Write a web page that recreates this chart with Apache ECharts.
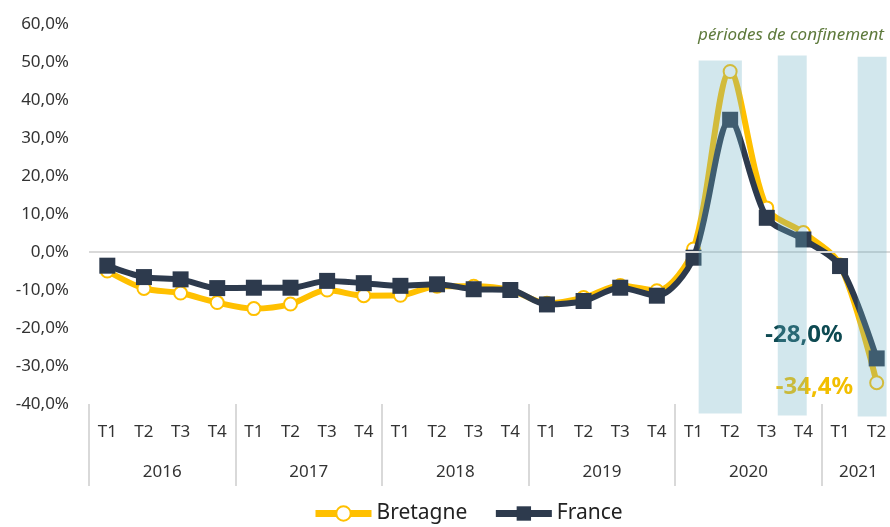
<!DOCTYPE html>
<html>
<head>
<meta charset="utf-8">
<script src="https://cdn.jsdelivr.net/npm/echarts@6/dist/echarts.min.js"></script>
<style>
  html, body { margin: 0; padding: 0; background: #fff; }
  #chart { width: 890px; height: 527px; }
</style>
</head>
<body>
<div id="chart"></div>
<script>
// trimestres et années
const quarters = ['T1', 'T2', 'T3', 'T4', 'T1', 'T2', 'T3', 'T4', 'T1', 'T2', 'T3', 'T4',
  'T1', 'T2', 'T3', 'T4', 'T1', 'T2', 'T3', 'T4', 'T1', 'T2'];
const years = ['2016', '2017', '2018', '2019', '2020', '2021'];
const quartersPerYear = [4, 4, 4, 4, 4, 2];

// évolution en %
const bretagne = [-5.0, -9.6, -10.8, -13.3, -14.9, -13.7, -10.0, -11.5, -11.4, -9.0, -9.0, -10.0,
  -13.5, -12.0, -8.8, -10.2, 0.8, 47.5, 11.6, 5.1, -3.4, -34.4];
const france = [-3.6, -6.6, -7.2, -9.5, -9.4, -9.4, -7.6, -8.2, -8.9, -8.5, -9.8, -10.0,
  -13.8, -12.9, -9.4, -11.5, -1.5, 34.8, 9.0, 3.3, -3.7, -28.0];

// périodes de confinement : [début, fin] en trimestres, [haut, bas] en %
const confinement = [
  [16.64, 17.82, 50.4, -42.5],
  [18.80, 19.59, 51.7, -43.0],
  [20.98, 21.77, 51.4, -43.3]
];

const yTicks = { min: -40, max: 60, step: 10 };

// axe des années (positions aux frontières des trimestres)
const yearSlots = new Array(quarters.length + 1).fill('');
const yearStarts = [];
let pos = 0;
years.forEach((y, i) => {
  yearStarts.push(pos);
  yearSlots[pos + quartersPerYear[i] / 2] = y;
  pos += quartersPerYear[i];
});

const fmt = v => v.toFixed(1).replace('.', ',') + '%';
const font = 'Noto Sans';
const yellow = '#FFC000';
const navy = '#2D3A4D';

const myChart = echarts.init(document.getElementById('chart'));

const lastB = bretagne.length - 1;
const lastF = france.length - 1;

var option = {
  animation: false,
  textStyle: { fontFamily: font },
  title: {
    text: 'périodes de confinement',
    right: 1,
    top: 22,
    textStyle: { fontFamily: font, fontStyle: 'italic', fontWeight: 'normal', fontSize: 17, color: '#5E7A3C' }
  },
  grid: { left: 89, top: 24, width: 806, bottom: 123, outerBoundsMode: 'none' },
  legend: {
    data: ['Bretagne', 'France'],
    left: 307,
    bottom: -2,
    itemWidth: 56,
    itemHeight: 18,
    itemGap: 25,
    lineStyle: { width: 7 },
    textStyle: { fontFamily: font, fontSize: 21, color: '#222' }
  },
  xAxis: [
    {
      type: 'category',
      data: quarters,
      position: 'bottom',
      axisLine: { show: false, onZero: false },
      axisTick: {
        show: true,
        inside: false,
        length: 82,
        interval: (index) => yearStarts.includes(index),
        lineStyle: { color: '#d9d9d9', width: 2 }
      },
      axisLabel: { interval: 0, margin: 20, fontSize: 17, color: '#333', fontFamily: font }
    },
    {
      type: 'category',
      data: yearSlots,
      boundaryGap: false,
      position: 'bottom',
      offset: 40,
      axisLine: { show: false, onZero: false },
      axisTick: { show: false },
      axisLabel: { interval: 0, margin: 20, fontSize: 17, color: '#333', fontFamily: font }
    },
    {
      type: 'value',
      min: 0,
      max: quarters.length,
      show: false
    }
  ],
  yAxis: {
    type: 'value',
    min: yTicks.min,
    max: yTicks.max,
    interval: yTicks.step,
    axisLine: { show: false },
    axisTick: { show: false },
    splitLine: { show: false },
    axisLabel: { margin: 20, fontSize: 17, color: '#333', fontFamily: font, formatter: fmt }
  },
  series: [
    {
      name: 'zero',
      type: 'line',
      xAxisIndex: 2,
      data: [],
      z: 1,
      markLine: {
        silent: true,
        symbol: 'none',
        label: { show: false },
        lineStyle: { color: '#d9d9d9', width: 2, type: 'solid' },
        data: [{ yAxis: 0 }]
      }
    },
    {
      name: 'Bretagne',
      type: 'line',
      smooth: 0.3,
      z: 3,
      symbol: 'emptyCircle',
      symbolSize: 13,
      lineStyle: { color: yellow, width: 6 },
      itemStyle: { color: yellow, borderColor: yellow, borderWidth: 3 },
      data: bretagne.map((v, i) => i === lastB ? {
        value: v,
        label: {
          show: true, position: 'left', offset: [-11, 4], formatter: fmt(v),
          fontSize: 24, fontWeight: 'bold', color: '#F2BF00', fontFamily: font
        }
      } : v)
    },
    {
      name: 'France',
      type: 'line',
      smooth: 0.3,
      z: 4,
      symbol: 'rect',
      symbolSize: 16,
      lineStyle: { color: navy, width: 6 },
      itemStyle: { color: navy },
      data: france.map((v, i) => i === lastF ? {
        value: v,
        label: {
          show: true, position: 'left', offset: [-21, -23], formatter: fmt(v),
          fontSize: 24, fontWeight: 'bold', color: '#0E4A52', fontFamily: font
        }
      } : v)
    },
    {
      name: 'confinement',
      type: 'custom',
      xAxisIndex: 2,
      z: 10,
      silent: true,
      clip: false,
      encode: { x: [0, 1], y: [2, 3] },
      data: confinement,
      renderItem: function (params, api) {
        const p0 = api.coord([api.value(0), api.value(2)]);
        const p1 = api.coord([api.value(1), api.value(3)]);
        return {
          type: 'rect',
          shape: { x: p0[0], y: p0[1], width: p1[0] - p0[0], height: p1[1] - p0[1] },
          style: { fill: 'rgba(105,175,195,0.3)' }
        };
      }
    }
  ]
};

myChart.setOption(option);
window.addEventListener('resize', function () {
  myChart.resize();
});
</script>
</body>
</html>
